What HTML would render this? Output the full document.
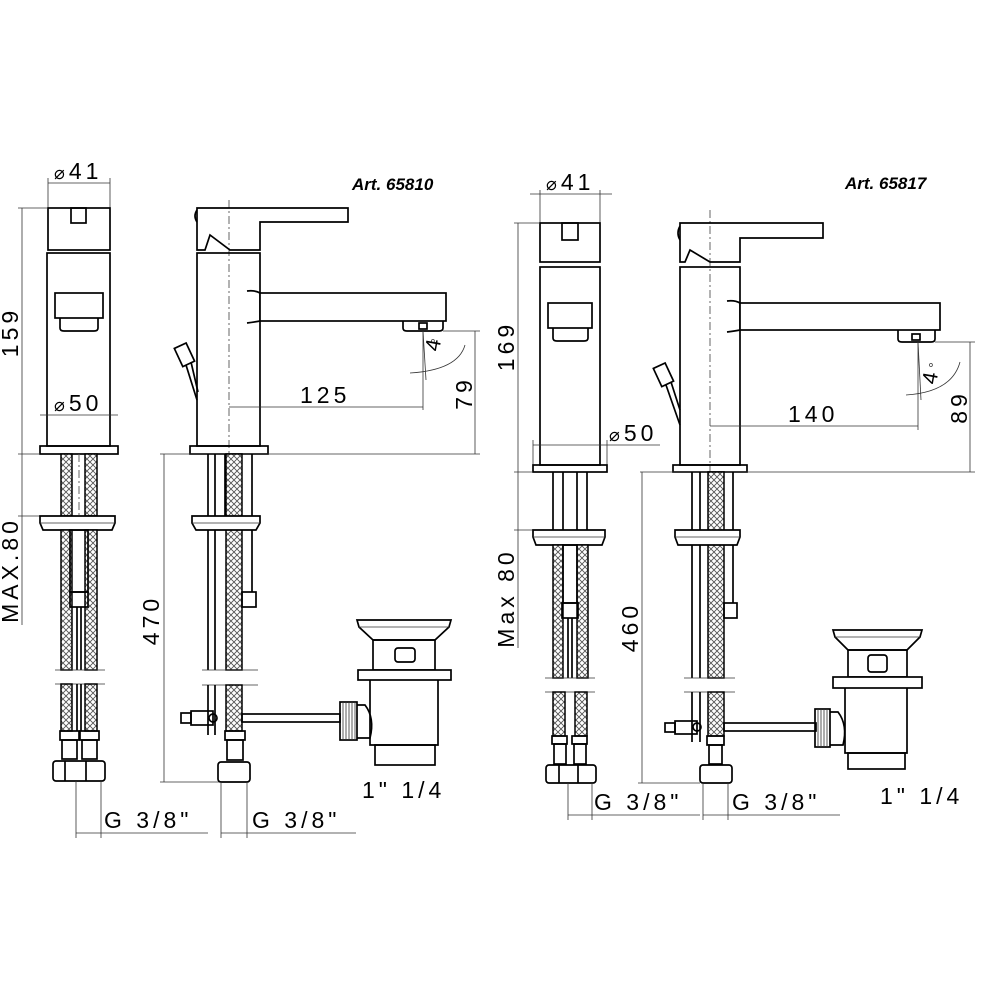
<!DOCTYPE html>
<html><head><meta charset="utf-8"><style>
html,body{margin:0;padding:0;background:#fff;}
svg{display:block;}
text{font-family:"Liberation Sans",sans-serif;fill:#000;}
.s{fill:none;stroke:#000;stroke-width:1.7;}
.w{fill:#fff;stroke:#000;stroke-width:1.7;}
.t{fill:none;stroke:#333;stroke-width:0.8;}
.h{fill:url(#hx);stroke:#000;stroke-width:1.5;}
.c{fill:none;stroke:#555;stroke-width:0.9;stroke-dasharray:8 3 2 3;}
.d{font-size:23px;letter-spacing:4px;}
</style></head><body>
<svg width="1000" height="1000" viewBox="0 0 1000 1000" xmlns="http://www.w3.org/2000/svg">
<defs>
<pattern id="hx" width="6" height="6" patternUnits="userSpaceOnUse">
<rect width="6" height="6" fill="#fff"/>
<path d="M0,0L6,6M6,0L0,6" stroke="#555" stroke-width="0.9"/>
</pattern>
</defs>

<!-- ================= LEFT (65810) ================= -->
<text x="352" y="190" font-size="17" font-weight="bold" font-style="italic">Art. 65810</text>

<text x="54" y="179" class="d"><tspan font-size="18">⌀</tspan>41</text>
<line class="t" x1="48" y1="183" x2="110" y2="183"/>
<line class="t" x1="48" y1="178" x2="48" y2="208"/>
<line class="t" x1="110" y1="178" x2="110" y2="208"/>
<rect class="s" x="48" y="208" width="62" height="42"/>
<rect class="s" x="71" y="208" width="15" height="15"/>
<rect class="s" x="47" y="253" width="63" height="193"/>
<rect class="s" x="55" y="293" width="48" height="25"/>
<path class="s" d="M60,318V328Q60,331 64,331H94Q98,331 98,328V318"/>
<text x="54" y="411" class="d"><tspan font-size="18">⌀</tspan>50</text>
<line class="t" x1="40" y1="415" x2="118" y2="415"/>
<rect class="s" x="40" y="446" width="78" height="8"/>
<line class="t" x1="22" y1="208" x2="22" y2="625"/>
<line class="t" x1="18" y1="208" x2="48" y2="208"/>
<line class="t" x1="18" y1="454" x2="40" y2="454"/>
<line class="t" x1="18" y1="516" x2="40" y2="516"/>
<text transform="translate(18,332) rotate(-90)" class="d" text-anchor="middle">159</text>
<text transform="translate(18,570) rotate(-90)" class="d" text-anchor="middle">MAX.80</text>

<rect class="h" x="61" y="454" width="11" height="62"/>
<rect class="h" x="85" y="454" width="12" height="62"/>
<line class="c" x1="79" y1="454" x2="79" y2="516"/>
<path class="w" d="M40,516H115V523L112,530H43L40,523Z"/>
<line class="t" x1="40" y1="523" x2="115" y2="523"/>
<rect class="h" x="61" y="530" width="11" height="140"/>
<rect class="h" x="85" y="530" width="12" height="140"/>
<rect class="s" x="70" y="530" width="18" height="62"/>
<rect class="s" x="70" y="592" width="18" height="15"/>
<line class="s" x1="77" y1="607" x2="77" y2="670"/>
<line class="s" x1="81" y1="607" x2="81" y2="670"/>
<line class="t" x1="55" y1="670" x2="105" y2="670"/>
<line class="t" x1="55" y1="684" x2="105" y2="684"/>
<rect class="h" x="61" y="684" width="11" height="47"/>
<rect class="h" x="85" y="684" width="12" height="47"/>
<line class="s" x1="77" y1="684" x2="77" y2="731"/>
<line class="s" x1="81" y1="684" x2="81" y2="731"/>
<rect class="s" x="60" y="731" width="19" height="9"/>
<rect class="s" x="80" y="731" width="19" height="9"/>
<rect class="s" x="62" y="740" width="15" height="19"/>
<rect class="s" x="82" y="740" width="15" height="19"/>
<rect class="w" x="53" y="761" width="52" height="20" rx="3"/>
<line class="s" x1="65" y1="761" x2="65" y2="781"/>
<line class="s" x1="86" y1="761" x2="86" y2="781"/>
<line class="t" x1="76" y1="781" x2="76" y2="838"/>
<line class="t" x1="101" y1="781" x2="101" y2="838"/>
<line class="t" x1="76" y1="833" x2="208" y2="833"/>
<text x="104" y="828" class="d">G  3/8"</text>

<line class="c" x1="229" y1="200" x2="229" y2="470"/>
<path class="s" d="M197,208H348V222H260V250H230L210,235L205,250H197Z"/>
<path class="s" d="M197,210Q193,216 197,222"/>
<rect class="s" x="197" y="253" width="63" height="193"/>
<rect class="w" x="260" y="293" width="186" height="28"/>
<path class="s" d="M247,291Q255,290 260,293M247,323Q255,322 260,321"/>
<path class="s" d="M403,321V328Q403,331 407,331H439Q443,331 443,328V321"/>
<rect class="s" x="419" y="323" width="8" height="6"/>
<g transform="translate(184,355) rotate(-25)"><rect class="w" x="-6" y="-10" width="13" height="20"/></g>
<path class="s" d="M186,365L197,400M191,362L198,392"/>
<rect class="s" x="190" y="446" width="78" height="8"/>
<line class="t" x1="229" y1="407" x2="423" y2="407"/>
<line class="t" x1="423" y1="331" x2="423" y2="410"/>
<text x="300" y="403" class="d">125</text>
<path class="t" d="M465,345Q458,370 410,373"/>
<line class="t" x1="423" y1="331" x2="426" y2="380"/>
<text transform="translate(439,352) rotate(-80)" font-size="21">4</text>
<text x="431" y="343" font-size="7">o</text>
<line class="t" x1="443" y1="331" x2="480" y2="331"/>
<line class="t" x1="475" y1="331" x2="475" y2="454"/>
<text transform="translate(472,393) rotate(-90)" class="d" text-anchor="middle">79</text>
<line class="t" x1="160" y1="454" x2="480" y2="454"/>
<line class="t" x1="164" y1="454" x2="164" y2="782"/>
<line class="t" x1="160" y1="782" x2="220" y2="782"/>
<text transform="translate(159,620) rotate(-90)" class="d" text-anchor="middle">470</text>

<line class="s" x1="208" y1="454" x2="208" y2="670"/>
<line class="s" x1="215" y1="454" x2="215" y2="670"/>
<line class="s" x1="225" y1="454" x2="225" y2="516"/>
<rect class="h" x="226" y="454" width="16" height="216"/>
<line class="s" x1="252" y1="454" x2="252" y2="516"/>
<path class="w" d="M192,516H260V523L256,530H196L192,523Z"/>
<line class="t" x1="192" y1="523" x2="260" y2="523"/>
<line class="s" x1="252" y1="530" x2="252" y2="592"/>
<rect class="s" x="242" y="592" width="14" height="15"/>
<line class="t" x1="202" y1="670" x2="258" y2="670"/>
<line class="t" x1="202" y1="685" x2="258" y2="685"/>
<line class="s" x1="208" y1="685" x2="208" y2="735"/>
<line class="s" x1="215" y1="685" x2="215" y2="735"/>
<rect class="h" x="226" y="685" width="16" height="46"/>
<rect class="s" x="181" y="713" width="10" height="10"/>
<rect class="s" x="191" y="711" width="22" height="14"/>
<circle class="s" cx="213" cy="718" r="4"/>
<rect class="s" x="242" y="714" width="98" height="8"/>
<rect class="s" x="225" y="731" width="20" height="9"/>
<rect class="s" x="227" y="740" width="16" height="20"/>
<rect class="w" x="218" y="762" width="32" height="20" rx="3"/>
<line class="t" x1="221" y1="782" x2="221" y2="838"/>
<line class="t" x1="247" y1="782" x2="247" y2="838"/>
<line class="t" x1="221" y1="833" x2="356" y2="833"/>
<text x="252" y="828" class="d">G  3/8"</text>

<path class="w" d="M357,620H451L449,627L435,640H373L359,627Z"/>
<line class="t" x1="359" y1="627" x2="449" y2="627"/>
<rect class="s" x="373" y="640" width="62" height="30"/>
<rect class="s" x="395" y="648" width="20" height="14" rx="3"/>
<rect class="w" x="358" y="670" width="93" height="10"/>
<path class="s" d="M370,680V745H438V680"/>
<rect class="s" x="375" y="745" width="60" height="20"/>
<path class="s" d="M357,705H365Q375,718 370,738H357"/>
<rect class="s" x="340" y="702" width="17" height="38"/>
<path class="t" d="M343,702V740M346,702V740M349,702V740M352,702V740M355,702V740"/>
<text x="362" y="798" class="d">1"  1/4</text>

<!-- ================= RIGHT (65817) ================= -->
<text x="845" y="189" font-size="17" font-weight="bold" font-style="italic">Art. 65817</text>

<text x="546" y="190" class="d"><tspan font-size="18">⌀</tspan>41</text>
<line class="t" x1="530" y1="194" x2="612" y2="194"/>
<line class="t" x1="540" y1="190" x2="540" y2="223"/>
<line class="t" x1="600" y1="190" x2="600" y2="223"/>
<rect class="s" x="540" y="223" width="60" height="39"/>
<rect class="s" x="562" y="223" width="16" height="17"/>
<rect class="s" x="540" y="267" width="60" height="198"/>
<rect class="s" x="548" y="303" width="44" height="25"/>
<path class="s" d="M553,328V338Q553,341 557,341H584Q588,341 588,338V328"/>
<text x="609" y="441" class="d"><tspan font-size="18">⌀</tspan>50</text>
<line class="t" x1="533" y1="445" x2="660" y2="445"/>
<line class="t" x1="533" y1="440" x2="533" y2="465"/>
<line class="t" x1="607" y1="440" x2="607" y2="465"/>
<rect class="s" x="533" y="465" width="74" height="7"/>
<line class="t" x1="518" y1="223" x2="518" y2="648"/>
<line class="t" x1="514" y1="223" x2="540" y2="223"/>
<line class="t" x1="514" y1="472" x2="533" y2="472"/>
<line class="t" x1="514" y1="530" x2="533" y2="530"/>
<text transform="translate(514,346) rotate(-90)" class="d" text-anchor="middle">169</text>
<text transform="translate(514,598) rotate(-90)" class="d" text-anchor="middle">Max 80</text>

<line class="s" x1="553" y1="472" x2="553" y2="530"/>
<line class="s" x1="563" y1="472" x2="563" y2="530"/>
<line class="s" x1="577" y1="472" x2="577" y2="530"/>
<line class="s" x1="587" y1="472" x2="587" y2="530"/>
<path class="w" d="M533,530H605V537L602,545H536L533,537Z"/>
<line class="t" x1="533" y1="537" x2="605" y2="537"/>
<rect class="h" x="553" y="545" width="10" height="133"/>
<rect class="h" x="577" y="545" width="11" height="133"/>
<rect class="s" x="563" y="545" width="14" height="58"/>
<rect class="s" x="562" y="603" width="16" height="15"/>
<line class="s" x1="568" y1="618" x2="568" y2="678"/>
<line class="s" x1="572" y1="618" x2="572" y2="678"/>
<line class="t" x1="545" y1="678" x2="595" y2="678"/>
<line class="t" x1="545" y1="692" x2="595" y2="692"/>
<rect class="h" x="553" y="692" width="12" height="44"/>
<rect class="h" x="575" y="692" width="12" height="44"/>
<rect class="s" x="552" y="736" width="15" height="8"/>
<rect class="s" x="572" y="736" width="15" height="8"/>
<rect class="s" x="554" y="744" width="12" height="20"/>
<rect class="s" x="574" y="744" width="12" height="20"/>
<rect class="w" x="546" y="765" width="50" height="18" rx="3"/>
<line class="s" x1="559" y1="765" x2="559" y2="783"/>
<line class="s" x1="578" y1="765" x2="578" y2="783"/>
<line class="t" x1="568" y1="783" x2="568" y2="820"/>
<line class="t" x1="592" y1="783" x2="592" y2="820"/>
<line class="t" x1="568" y1="815" x2="700" y2="815"/>
<text x="594" y="810" class="d">G  3/8"</text>

<line class="c" x1="710" y1="210" x2="710" y2="490"/>
<path class="s" d="M680,223H823V238H740V262H710L690,250L685,262H680Z"/>
<path class="s" d="M680,226Q676,233 680,240"/>
<rect class="s" x="680" y="267" width="60" height="198"/>
<rect class="w" x="740" y="303" width="200" height="27"/>
<path class="s" d="M727,301Q735,300 740,303M727,332Q735,331 740,330"/>
<path class="s" d="M898,330V339Q898,342 902,342H931Q935,342 935,339V330"/>
<rect class="s" x="912" y="334" width="8" height="6"/>
<g transform="translate(663,375) rotate(-25)"><rect class="w" x="-6" y="-10" width="13" height="20"/></g>
<path class="s" d="M666,385L680,425M671,382L680,410"/>
<rect class="s" x="673" y="465" width="74" height="7"/>
<line class="t" x1="710" y1="426" x2="918" y2="426"/>
<line class="t" x1="918" y1="342" x2="918" y2="430"/>
<text x="788" y="422" class="d">140</text>
<path class="t" d="M960,362Q952,392 906,395"/>
<line class="t" x1="918" y1="342" x2="921" y2="400"/>
<text transform="translate(936,385) rotate(-80)" font-size="21">4</text>
<text x="929" y="367" font-size="7">o</text>
<line class="t" x1="935" y1="342" x2="975" y2="342"/>
<line class="t" x1="970" y1="342" x2="970" y2="472"/>
<text transform="translate(967,407) rotate(-90)" class="d" text-anchor="middle">89</text>
<line class="t" x1="640" y1="472" x2="975" y2="472"/>
<line class="t" x1="642" y1="472" x2="642" y2="783"/>
<line class="t" x1="638" y1="783" x2="700" y2="783"/>
<text transform="translate(638,627) rotate(-90)" class="d" text-anchor="middle">460</text>

<line class="s" x1="692" y1="472" x2="692" y2="678"/>
<line class="s" x1="700" y1="472" x2="700" y2="678"/>
<rect class="h" x="708" y="472" width="16" height="206"/>
<line class="s" x1="733" y1="472" x2="733" y2="530"/>
<path class="w" d="M675,530H740V537L737,545H678L675,537Z"/>
<line class="t" x1="675" y1="537" x2="740" y2="537"/>
<line class="s" x1="733" y1="545" x2="733" y2="603"/>
<rect class="s" x="724" y="603" width="13" height="15"/>
<line class="t" x1="684" y1="678" x2="735" y2="678"/>
<line class="t" x1="684" y1="692" x2="735" y2="692"/>
<line class="s" x1="692" y1="692" x2="692" y2="742"/>
<line class="s" x1="700" y1="692" x2="700" y2="742"/>
<rect class="h" x="708" y="692" width="16" height="44"/>
<rect class="s" x="665" y="723" width="10" height="9"/>
<rect class="s" x="675" y="721" width="22" height="13"/>
<circle class="s" cx="697" cy="727" r="4"/>
<rect class="s" x="724" y="723" width="92" height="8"/>
<rect class="s" x="707" y="736" width="17" height="9"/>
<rect class="s" x="709" y="745" width="13" height="19"/>
<rect class="w" x="700" y="765" width="32" height="18" rx="3"/>
<line class="t" x1="703" y1="783" x2="703" y2="820"/>
<line class="t" x1="728" y1="783" x2="728" y2="820"/>
<line class="t" x1="703" y1="815" x2="840" y2="815"/>
<text x="732" y="810" class="d">G  3/8"</text>

<path class="w" d="M833,630H922L920,637L907,650H848L835,637Z"/>
<line class="t" x1="835" y1="637" x2="920" y2="637"/>
<rect class="s" x="848" y="650" width="59" height="27"/>
<rect class="s" x="868" y="655" width="19" height="17" rx="3"/>
<rect class="w" x="833" y="677" width="89" height="11"/>
<path class="s" d="M845,688V753H907V688"/>
<rect class="s" x="848" y="753" width="57" height="16"/>
<path class="s" d="M830,712H838Q848,725 843,745H830"/>
<rect class="s" x="815" y="709" width="15" height="38"/>
<path class="t" d="M818,709V747M821,709V747M824,709V747M827,709V747"/>
<text x="880" y="804" class="d">1"  1/4</text>
</svg>
</body></html>
